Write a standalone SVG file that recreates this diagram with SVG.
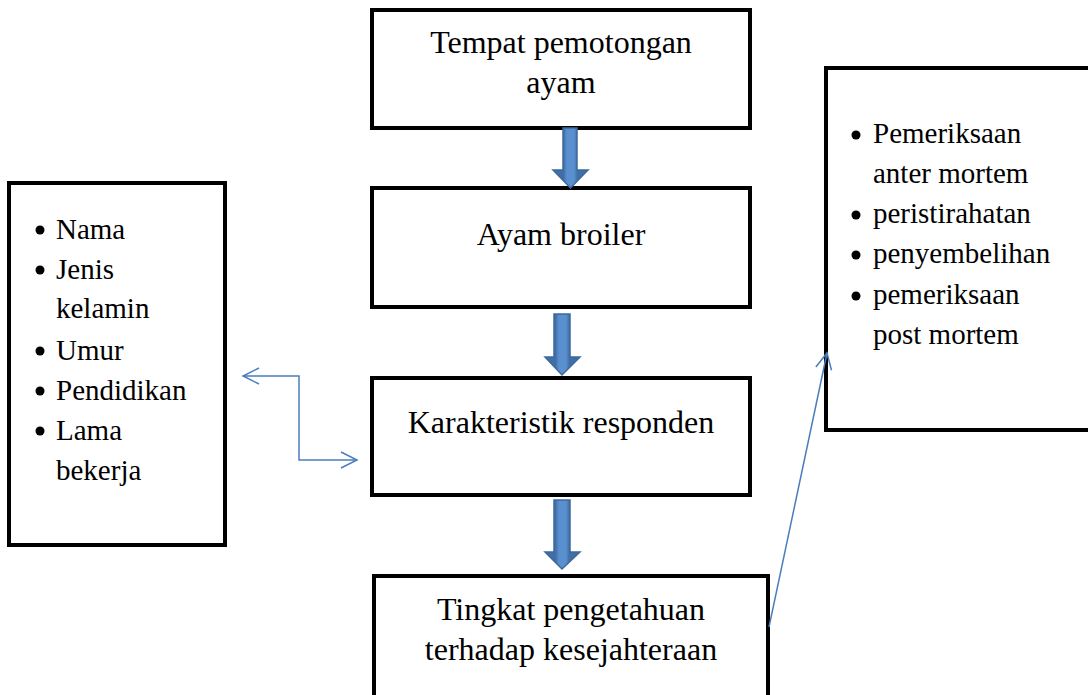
<svg xmlns="http://www.w3.org/2000/svg" width="1088" height="695" viewBox="0 0 1088 695">
<defs>
<style>
.box{fill:#fff;stroke:#000;stroke-width:4}
.t{font-family:"Liberation Serif","Times New Roman",serif;font-size:32px;fill:#000;text-anchor:middle}
.l{font-family:"Liberation Serif","Times New Roman",serif;font-size:29px;fill:#000}
.conn{fill:none;stroke:#4a7ebb;stroke-width:1.5}
.blk{fill:url(#bg);stroke:#3d6a9a;stroke-width:1.5}
</style>
<linearGradient id="bg" x1="0" y1="0" x2="1" y2="0">
<stop offset="0" stop-color="#3f6fa6"/>
<stop offset="0.3" stop-color="#3f6fa6"/>
<stop offset="0.4" stop-color="#5a8fd0"/>
<stop offset="0.6" stop-color="#5a8fd0"/>
<stop offset="0.7" stop-color="#3f6fa6"/>
<stop offset="1" stop-color="#3f6fa6"/>
</linearGradient>
<marker id="oa" viewBox="0 0 20 20" refX="18" refY="10" markerWidth="20" markerHeight="20" markerUnits="userSpaceOnUse" orient="auto-start-reverse">
<path d="M2,2 L18,10 L2,18" fill="none" stroke="#4a7ebb" stroke-width="1.5"/>
</marker>
</defs>

<g id="node-tempat">
<rect class="box" x="372" y="10" width="378" height="118"/>
<text class="t" x="561" y="53">Tempat pemotongan</text>
<text class="t" x="561" y="93">ayam</text>
</g>

<g id="node-ayam">
<rect class="box" x="372" y="188" width="378" height="119"/>
<text class="t" x="561" y="245">Ayam broiler</text>
</g>

<g id="node-karakteristik">
<rect class="box" x="372" y="378" width="378" height="117"/>
<text class="t" x="561" y="433">Karakteristik responden</text>
</g>

<g id="node-tingkat">
<rect class="box" x="374" y="576" width="394" height="125"/>
<text class="t" x="571" y="620">Tingkat pengetahuan</text>
<text class="t" x="571" y="660">terhadap kesejahteraan</text>
</g>

<g id="node-responden-list">
<rect class="box" x="9" y="183" width="216" height="362"/>
<g class="l">
<circle cx="40" cy="230" r="4.5"/>
<text x="56" y="239">Nama</text>
<circle cx="40" cy="270" r="4.5"/>
<text x="56" y="279">Jenis</text>
<text x="56" y="318">kelamin</text>
<circle cx="40" cy="351" r="4.5"/>
<text x="56" y="360">Umur</text>
<circle cx="40" cy="391" r="4.5"/>
<text x="56" y="400">Pendidikan</text>
<circle cx="40" cy="431" r="4.5"/>
<text x="56" y="440">Lama</text>
<text x="56" y="480">bekerja</text>
</g>
</g>

<g id="node-proses-list">
<rect class="box" x="826" y="68" width="270" height="362"/>
<g class="l">
<circle cx="856" cy="135" r="4.5"/>
<text x="873" y="143">Pemeriksaan</text>
<text x="873" y="183">anter mortem</text>
<circle cx="856" cy="215" r="4.5"/>
<text x="873" y="223">peristirahatan</text>
<circle cx="856" cy="255" r="4.5"/>
<text x="873" y="263">penyembelihan</text>
<circle cx="856" cy="296" r="4.5"/>
<text x="873" y="304">pemeriksaan</text>
<text x="873" y="344">post mortem</text>
</g>
</g>

<g id="connectors">
<path class="blk" d="M563,128 L577,128 L577,170 L588,170 L570.5,188 L553,170 L563,170 Z"/>
<path class="blk" d="M554,314 L570,314 L570,357 L580,357 L562,375 L545,357 L554,357 Z"/>
<path class="blk" d="M554,500 L570,500 L570,552 L580,552 L562,569 L545,552 L554,552 Z"/>
<path class="conn" d="M243,376 L299,376 L299,460 L357,460" marker-start="url(#oa)" marker-end="url(#oa)"/>
<path class="conn" d="M769,627 L827,353" marker-end="url(#oa)"/>
</g>
</svg>
